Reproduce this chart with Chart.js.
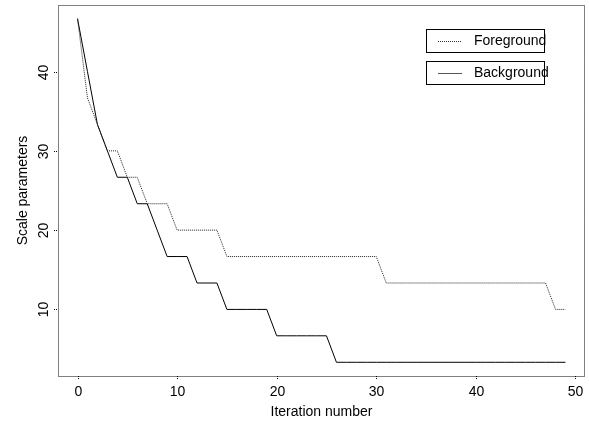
<!DOCTYPE html>
<html>
<head>
<meta charset="utf-8">
<script src="https://cdn.jsdelivr.net/npm/chart.js@4"></script>
<style>
  html, body { margin: 0; padding: 0; background: #fff; }
  canvas { display: block; }
</style>
</head>
<body>
<canvas id="chart" width="589" height="429"></canvas>
<script>
// Data (values are steps of 10/3)
const iterations = Array.from({ length: 50 }, (_, i) => i);
const foreground = [
    46.67, 36.67, 33.33, 30, 30, 26.67, 26.67, 23.33, 23.33, 23.33,
    20, 20, 20, 20, 20, 16.67, 16.67, 16.67, 16.67, 16.67,
    16.67, 16.67, 16.67, 16.67, 16.67, 16.67, 16.67, 16.67, 16.67, 16.67,
    16.67, 13.33, 13.33, 13.33, 13.33, 13.33, 13.33, 13.33, 13.33, 13.33,
    13.33, 13.33, 13.33, 13.33, 13.33, 13.33, 13.33, 13.33, 10, 10
];
const background = [
    46.67, 40, 33.33, 30, 26.67, 26.67, 23.33, 23.33, 20, 16.67,
    16.67, 16.67, 13.33, 13.33, 13.33, 10, 10, 10, 10, 10,
    6.67, 6.67, 6.67, 6.67, 6.67, 6.67, 3.33, 3.33, 3.33, 3.33,
    3.33, 3.33, 3.33, 3.33, 3.33, 3.33, 3.33, 3.33, 3.33, 3.33,
    3.33, 3.33, 3.33, 3.33, 3.33, 3.33, 3.33, 3.33, 3.33, 3.33
];
const xTicks = [0, 10, 20, 30, 40, 50];
const yTicks = [10, 20, 30, 40];
const seriesNames = ['Foreground', 'Background'];

const font = '14px "Liberation Sans", Arial, sans-serif';

const toPoints = (ys) => ys.map((y, i) => ({ x: iterations[i], y: y }));

// R-style frame, ticks, labels and legend
const rDecor = {
    id: 'rDecor',
    afterDraw(chart) {
        const ctx = chart.ctx;
        const a = chart.chartArea;
        const xs = chart.scales.x, ys = chart.scales.y;
        ctx.save();
        ctx.strokeStyle = '#000';
        ctx.lineWidth = 1;
        ctx.setLineDash([1, 1]);
        ctx.strokeRect(Math.round(a.left) + 0.5, Math.round(a.top) + 0.5,
            Math.round(a.right - a.left) - 1, Math.round(a.bottom - a.top));

        ctx.fillStyle = '#000';
        ctx.font = font;

        // x ticks
        ctx.textAlign = 'center';
        ctx.textBaseline = 'middle';
        xTicks.forEach(t => {
            const px = Math.round(xs.getPixelForValue(t)) + 0.5;
            ctx.beginPath();
            ctx.moveTo(px, a.bottom);
            ctx.lineTo(px, a.bottom + 4);
            ctx.stroke();
            ctx.fillText(String(t), px, 392);
        });

        // y ticks, labels rotated
        yTicks.forEach(t => {
            const py = Math.round(ys.getPixelForValue(t)) + 0.5;
            ctx.beginPath();
            ctx.moveTo(a.left - 4, py);
            ctx.lineTo(a.left, py);
            ctx.stroke();
            ctx.save();
            ctx.translate(44, py);
            ctx.rotate(-Math.PI / 2);
            ctx.fillText(String(t), 0, 0);
            ctx.restore();
        });

        // axis titles
        ctx.fillText('Iteration number', (a.left + a.right) / 2, 412);
        ctx.save();
        ctx.translate(23, (a.top + a.bottom) / 2);
        ctx.rotate(-Math.PI / 2);
        ctx.fillText('Scale parameters', 0, 0);
        ctx.restore();

        // legend boxes
        const boxes = [
            { y: 29.5, dash: [1, 1], color: '#333' },
            { y: 61.5, dash: [], color: '#555' }
        ];
        ctx.textAlign = 'left';
        boxes.forEach((b, i) => {
            ctx.setLineDash([]);
            ctx.strokeStyle = '#000';
            ctx.strokeRect(426.5, b.y, 118, 23);
            ctx.strokeStyle = b.color;
            ctx.setLineDash(b.dash);
            ctx.beginPath();
            ctx.moveTo(438, Math.round(b.y + 11.5) + 0.5);
            ctx.lineTo(462, Math.round(b.y + 11.5) + 0.5);
            ctx.stroke();
            ctx.fillText(seriesNames[i], 474, b.y + 12);
        });
        ctx.restore();
    }
};

new Chart(document.getElementById('chart'), {
    type: 'line',
    data: {
        datasets: [
            {
                label: seriesNames[0],
                data: toPoints(foreground),
                borderColor: '#222',
                borderWidth: 1,
                borderDash: [1, 1],
                pointRadius: 0,
                tension: 0,
                fill: false
            },
            {
                label: seriesNames[1],
                data: toPoints(background),
                borderColor: '#000',
                borderWidth: 1,
                pointRadius: 0,
                tension: 0,
                fill: false
            }
        ]
    },
    options: {
        responsive: false,
        animation: false,
        events: [],
        layout: {
            padding: { left: 58, right: 4, top: 5, bottom: 53 }
        },
        plugins: {
            legend: { display: false },
            tooltip: { enabled: false }
        },
        scales: {
            x: { type: 'linear', min: -1.96, max: 50.96, display: false },
            y: { type: 'linear', min: 1.6, max: 48.4, display: false }
        }
    },
    plugins: [rDecor]
});
</script>
</body>
</html>
